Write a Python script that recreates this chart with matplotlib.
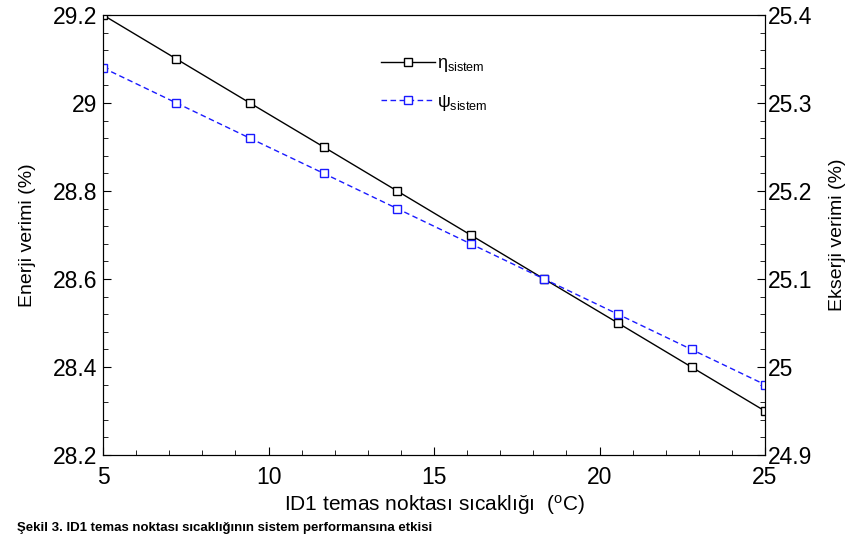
import numpy as np
import matplotlib
matplotlib.use('Agg')
import matplotlib.pyplot as plt
from matplotlib.ticker import MultipleLocator

plt.rcParams['font.family'] = ['Liberation Sans', 'DejaVu Sans']
plt.rcParams['mathtext.fontset'] = 'custom'
plt.rcParams['mathtext.rm'] = 'Liberation Sans'
plt.rcParams['mathtext.it'] = 'Liberation Sans'

# ID1 contact-point temperature (degC) and the two efficiencies
temp = [5, 7.22, 9.44, 11.67, 13.89, 16.11, 18.33, 20.56, 22.78, 25]
eta_sistem = [29.2, 29.1, 29.0, 28.9, 28.8, 28.7, 28.6, 28.5, 28.4, 28.3]
psi_sistem = [25.34, 25.30, 25.26, 25.22, 25.18, 25.14, 25.10, 25.06, 25.02, 24.98]

fig = plt.figure(figsize=(8.5, 5.36), dpi=100)
ax = fig.add_axes([0.1212, 0.151, 0.7788, 0.821])
ax2 = ax.twinx()

l1, = ax.plot(temp, eta_sistem, '-', color='black', lw=1.0,
              marker='s', ms=6, mfc='white', mec='black', mew=1.0)
l2, = ax2.plot(temp, psi_sistem, '--', color='#1a1aff', lw=1.0, dashes=(4, 2.5),
               marker='s', ms=6, mfc='white', mec='#1a1aff', mew=1.0)

ax.set_xlim(5, 25)
ax.set_ylim(28.2, 29.2)
ax2.set_ylim(24.9, 25.4)

ax.xaxis.set_major_locator(MultipleLocator(5))
ax.xaxis.set_minor_locator(MultipleLocator(1))
ax.yaxis.set_major_locator(MultipleLocator(0.2))
ax.yaxis.set_minor_locator(MultipleLocator(0.04))
ax2.yaxis.set_major_locator(MultipleLocator(0.1))
ax2.yaxis.set_minor_locator(MultipleLocator(0.02))

def fmt(v, pos):
    return '%g' % round(v, 2)

ax.yaxis.set_major_formatter(plt.FuncFormatter(fmt))
ax2.yaxis.set_major_formatter(plt.FuncFormatter(fmt))

for a in (ax, ax2):
    a.tick_params(which='both', direction='in', labelsize=16.5)
    a.tick_params(which='major', length=6)
    a.tick_params(which='minor', length=3.5)
ax.tick_params(axis='x', pad=8)
ax.tick_params(axis='y', pad=4)
ax2.tick_params(axis='y', pad=2)

ax.set_xlabel('ID1 temas noktası sıcaklığı  ($^{\\mathrm{o}}$C)', fontsize=15, labelpad=3)
ax.set_ylabel('Enerji verimi (%)', fontsize=14, labelpad=12)
ax2.set_ylabel('Ekserji verimi (%)', fontsize=14, labelpad=12)

ax.legend([l1, l2], ['$\\eta_{\\mathrm{sistem}}$', '$\\psi_{\\mathrm{sistem}}$'],
          loc='upper left', bbox_to_anchor=(0.395, 0.945), frameon=False,
          fontsize=13, handlelength=3.0, handletextpad=0.1, labelspacing=1.0)

fig.text(0.02, 0.004, 'Şekil 3. ID1 temas noktası sıcaklığının sistem performansına etkisi',
         fontsize=9.5, fontweight='bold', ha='left', va='bottom')

fig.savefig('out.png', dpi=100)
